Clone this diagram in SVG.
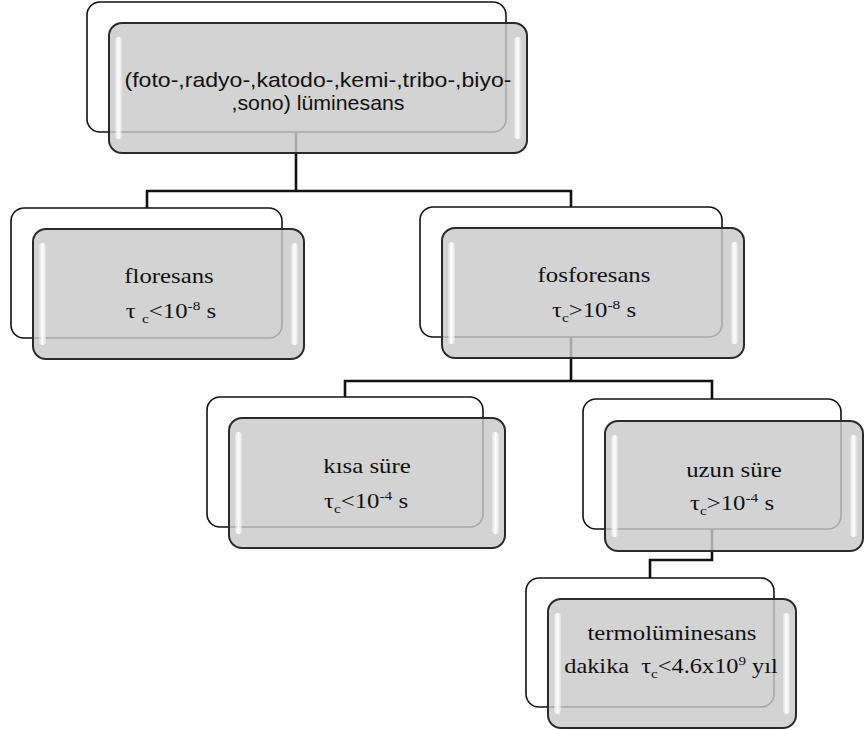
<svg xmlns="http://www.w3.org/2000/svg" width="866" height="730" viewBox="0 0 866 730">
<defs>
<style>
.back{fill:#ffffff;stroke:#111;stroke-width:1.6}
.front{fill:#c9c9c9;fill-opacity:0.82;stroke:#2a2a2a;stroke-width:2}
.hl{fill:url(#hlg)}
.conn{fill:none;stroke:#111;stroke-width:2.6}
.sans{font-family:"Liberation Sans",Arial,sans-serif;font-size:21px;fill:#111}
.serif{font-family:"Liberation Serif","Times New Roman",serif;font-size:21px;fill:#111;white-space:pre}
.sm{font-size:13px}
</style>
<linearGradient id="hlg" x1="0" y1="0" x2="1" y2="0">
<stop offset="0" stop-color="#fff" stop-opacity="0.3"/>
<stop offset="0.5" stop-color="#fff" stop-opacity="1"/>
<stop offset="1" stop-color="#fff" stop-opacity="0.3"/>
</linearGradient>
</defs>
<rect width="866" height="730" fill="#fff"/>
<g id="connectors">
<path class="conn" d="M296,132 V191 M147,208 V191 H571 V207"/>
<path class="conn" d="M571,337 V381 M345,397 V381 H712 V399"/>
<path class="conn" d="M712,528 V560 H650 V578"/>
</g>
<g id="node-luminesans">
<rect class="back" x="87" y="2" width="419" height="130" rx="13"/>
<rect class="front" x="109" y="23" width="418" height="130" rx="13"/>
<rect class="hl" x="115" y="37" width="7" height="102" rx="3.5"/>
<rect class="hl" x="514" y="37" width="7" height="102" rx="3.5"/>
<text class="sans" x="318" y="87" text-anchor="middle" textLength="387" lengthAdjust="spacingAndGlyphs">(foto-,radyo-,katodo-,kemi-,tribo-,biyo-</text>
<text class="sans" x="318" y="110" text-anchor="middle" textLength="173" lengthAdjust="spacingAndGlyphs">,sono) lüminesans</text>
</g>
<g id="node-floresans">
<rect class="back" x="11" y="208" width="271" height="130" rx="13"/>
<rect class="front" x="33" y="229" width="271" height="130" rx="13"/>
<rect class="hl" x="39" y="243" width="7" height="102" rx="3.5"/>
<rect class="hl" x="291" y="243" width="7" height="102" rx="3.5"/>
<text class="serif" transform="translate(169,283) scale(1.18,1)" text-anchor="middle">floresans</text>
<text class="serif" transform="translate(171,318) scale(1.18,1)" text-anchor="middle">τ <tspan class="sm" dy="5">c</tspan><tspan dy="-5">&lt;10</tspan><tspan class="sm" dy="-8">-8</tspan><tspan dy="8"> s</tspan></text>
</g>
<g id="node-fosforesans">
<rect class="back" x="420" y="207" width="302" height="130" rx="13"/>
<rect class="front" x="442" y="228" width="302" height="130" rx="13"/>
<rect class="hl" x="448" y="242" width="7" height="102" rx="3.5"/>
<rect class="hl" x="731" y="242" width="7" height="102" rx="3.5"/>
<text class="serif" transform="translate(594,282) scale(1.18,1)" text-anchor="middle">fosforesans</text>
<text class="serif" transform="translate(594,317) scale(1.18,1)" text-anchor="middle">τ<tspan class="sm" dy="5">c</tspan><tspan dy="-5">&gt;10</tspan><tspan class="sm" dy="-8">-8</tspan><tspan dy="8"> s</tspan></text>
</g>
<g id="node-kisa-sure">
<rect class="back" x="207" y="397" width="276" height="130" rx="13"/>
<rect class="front" x="229" y="418" width="276" height="130" rx="13"/>
<rect class="hl" x="235" y="432" width="7" height="102" rx="3.5"/>
<rect class="hl" x="492" y="432" width="7" height="102" rx="3.5"/>
<text class="serif" transform="translate(367,473) scale(1.18,1)" text-anchor="middle">kısa süre</text>
<text class="serif" transform="translate(366,508) scale(1.18,1)" text-anchor="middle">τ<tspan class="sm" dy="5">c</tspan><tspan dy="-5">&lt;10</tspan><tspan class="sm" dy="-8">-4</tspan><tspan dy="8"> s</tspan></text>
</g>
<g id="node-uzun-sure">
<rect class="back" x="583" y="399" width="258" height="130" rx="13"/>
<rect class="front" x="605" y="421" width="258" height="130" rx="13"/>
<rect class="hl" x="611" y="435" width="7" height="102" rx="3.5"/>
<rect class="hl" x="850" y="435" width="7" height="102" rx="3.5"/>
<text class="serif" transform="translate(734,477) scale(1.18,1)" text-anchor="middle">uzun süre</text>
<text class="serif" transform="translate(732,510) scale(1.18,1)" text-anchor="middle">τ<tspan class="sm" dy="5">c</tspan><tspan dy="-5">&gt;10</tspan><tspan class="sm" dy="-8">-4</tspan><tspan dy="8"> s</tspan></text>
</g>
<g id="node-termoluminesans">
<rect class="back" x="526" y="578" width="248" height="129" rx="13"/>
<rect class="front" x="548" y="599" width="248" height="129" rx="13"/>
<rect class="hl" x="554" y="613" width="7" height="101" rx="3.5"/>
<rect class="hl" x="783" y="613" width="7" height="101" rx="3.5"/>
<text class="serif" x="672" y="640" text-anchor="middle" textLength="169" lengthAdjust="spacingAndGlyphs">termolüminesans</text>
<text class="serif" transform="translate(671,673) scale(1.16,1)" text-anchor="middle">dakika  τ<tspan class="sm" dy="5">c</tspan><tspan dy="-5">&lt;4.6x10</tspan><tspan class="sm" dy="-8">9</tspan><tspan dy="8"> yıl</tspan></text>
</g>
</svg>
